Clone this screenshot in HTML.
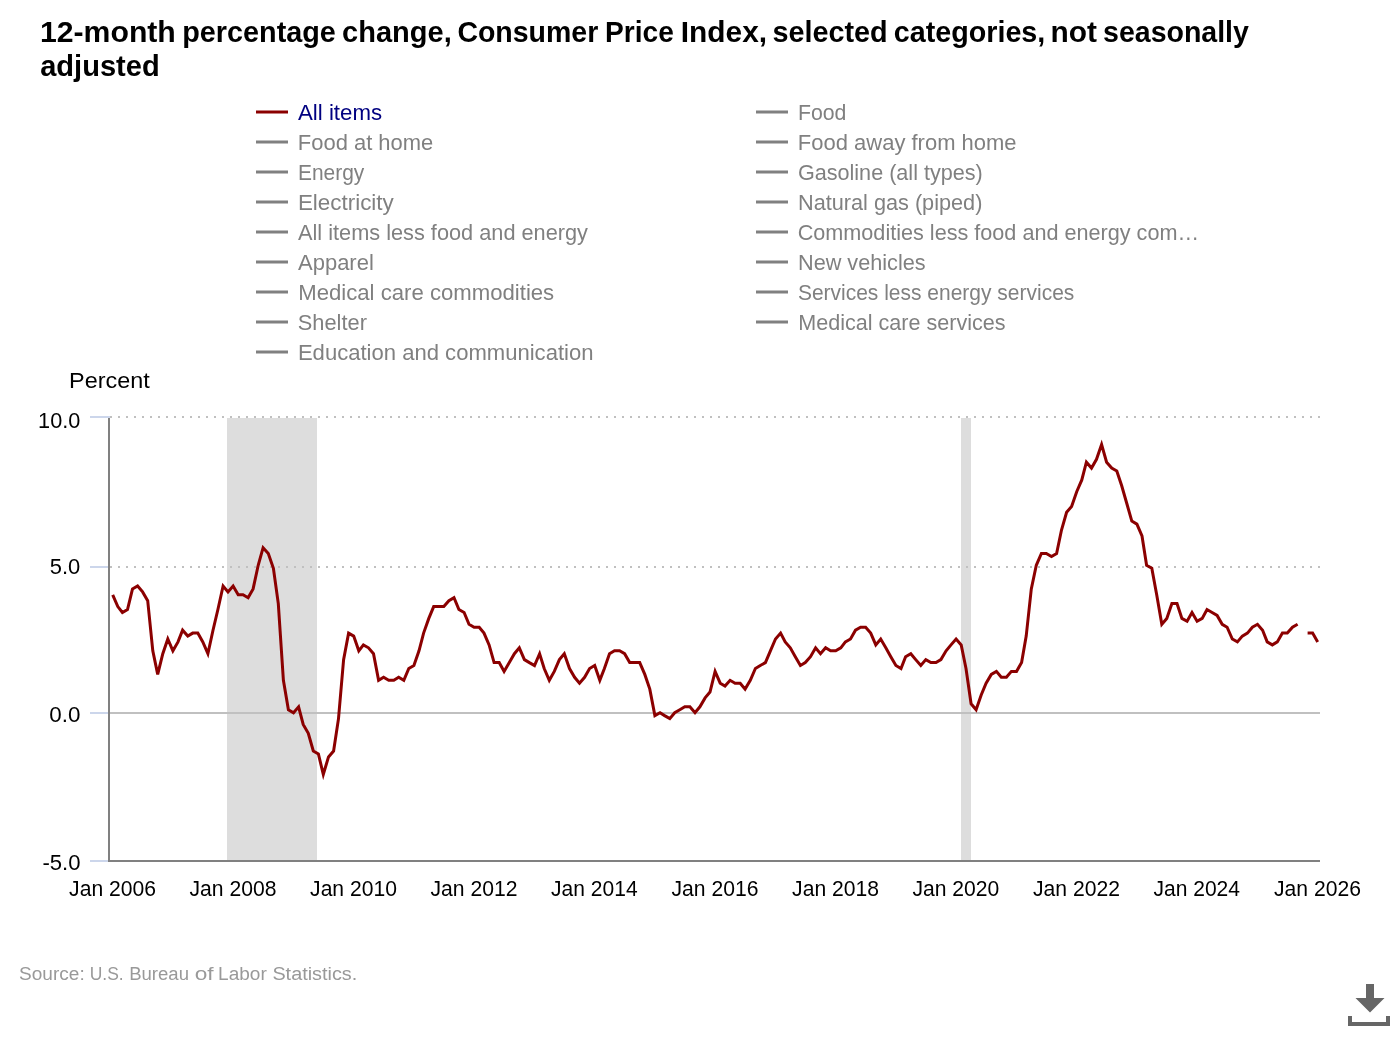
<!DOCTYPE html>
<html lang="en"><head><meta charset="utf-8"><title>12-month percentage change, Consumer Price Index</title>
<style>html,body{margin:0;padding:0;background:#fff;}body{width:1400px;height:1040px;overflow:hidden;font-family:"Liberation Sans",sans-serif;}svg{display:block;}</style>
</head><body>
<svg class="highcharts-root" width="1400" height="1040" viewBox="0 0 1400 1040">
<rect x="0" y="0" width="1400" height="1040" fill="#ffffff"/>
<g class="highcharts-title" font-family="'Liberation Sans', sans-serif" font-weight="700" font-size="29" fill="#000000">
<text><tspan x="40.0" y="42" textLength="135.8" lengthAdjust="spacingAndGlyphs">12-month</tspan> <tspan x="182.3" y="42" textLength="153.5" lengthAdjust="spacingAndGlyphs">percentage</tspan> <tspan x="342.1" y="42" textLength="109.6" lengthAdjust="spacingAndGlyphs">change,</tspan> <tspan x="457.4" y="42" textLength="140.9" lengthAdjust="spacingAndGlyphs">Consumer</tspan> <tspan x="605.0" y="42" textLength="68.8" lengthAdjust="spacingAndGlyphs">Price</tspan> <tspan x="680.8" y="42" textLength="86.3" lengthAdjust="spacingAndGlyphs">Index,</tspan> <tspan x="772.4" y="42" textLength="115.3" lengthAdjust="spacingAndGlyphs">selected</tspan> <tspan x="893.8" y="42" textLength="151.5" lengthAdjust="spacingAndGlyphs">categories,</tspan> <tspan x="1050.5" y="42" textLength="46.4" lengthAdjust="spacingAndGlyphs">not</tspan> <tspan x="1103.1" y="42" textLength="145.8" lengthAdjust="spacingAndGlyphs">seasonally</tspan> <tspan x="40.2" y="75.6" textLength="119.5" lengthAdjust="spacingAndGlyphs">adjusted</tspan></text>
</g>
<g class="highcharts-legend" font-family="'Liberation Sans', sans-serif" font-size="21.5">
<rect x="256" y="110.5" width="32" height="3" fill="#8b0000"/>
<text x="298.0" y="120" font-size="21.5" fill="#000080" textLength="84.1" lengthAdjust="spacingAndGlyphs">All items</text>
<rect x="256" y="140.5" width="32" height="3" fill="#808080"/>
<text x="297.8" y="150" font-size="21.5" fill="#808080" textLength="135.5" lengthAdjust="spacingAndGlyphs">Food at home</text>
<rect x="256" y="170.5" width="32" height="3" fill="#808080"/>
<text x="298.0" y="180" font-size="21.5" fill="#808080" textLength="66.3" lengthAdjust="spacingAndGlyphs">Energy</text>
<rect x="256" y="200.5" width="32" height="3" fill="#808080"/>
<text x="297.9" y="210" font-size="21.5" fill="#808080" textLength="95.9" lengthAdjust="spacingAndGlyphs">Electricity</text>
<rect x="256" y="230.5" width="32" height="3" fill="#808080"/>
<text x="298.0" y="240" font-size="21.5" fill="#808080" textLength="290.0" lengthAdjust="spacingAndGlyphs">All items less food and energy</text>
<rect x="256" y="260.5" width="32" height="3" fill="#808080"/>
<text x="298.0" y="270" font-size="21.5" fill="#808080" textLength="75.8" lengthAdjust="spacingAndGlyphs">Apparel</text>
<rect x="256" y="290.5" width="32" height="3" fill="#808080"/>
<text x="298.2" y="300" font-size="21.5" fill="#808080" textLength="256.0" lengthAdjust="spacingAndGlyphs">Medical care commodities</text>
<rect x="256" y="320.5" width="32" height="3" fill="#808080"/>
<text x="297.8" y="330" font-size="21.5" fill="#808080" textLength="69.1" lengthAdjust="spacingAndGlyphs">Shelter</text>
<rect x="256" y="350.5" width="32" height="3" fill="#808080"/>
<text x="297.9" y="360" font-size="21.5" fill="#808080" textLength="295.6" lengthAdjust="spacingAndGlyphs">Education and communication</text>
<rect x="756" y="110.5" width="32" height="3" fill="#808080"/>
<text x="797.9" y="120" font-size="21.5" fill="#808080" textLength="48.5" lengthAdjust="spacingAndGlyphs">Food</text>
<rect x="756" y="140.5" width="32" height="3" fill="#808080"/>
<text x="797.8" y="150" font-size="21.5" fill="#808080" textLength="218.8" lengthAdjust="spacingAndGlyphs">Food away from home</text>
<rect x="756" y="170.5" width="32" height="3" fill="#808080"/>
<text x="797.9" y="180" font-size="21.5" fill="#808080" textLength="184.9" lengthAdjust="spacingAndGlyphs">Gasoline (all types)</text>
<rect x="756" y="200.5" width="32" height="3" fill="#808080"/>
<text x="798.0" y="210" font-size="21.5" fill="#808080" textLength="184.4" lengthAdjust="spacingAndGlyphs">Natural gas (piped)</text>
<rect x="756" y="230.5" width="32" height="3" fill="#808080"/>
<text x="797.7" y="240" font-size="21.5" fill="#808080" textLength="401.4" lengthAdjust="spacingAndGlyphs">Commodities less food and energy com…</text>
<rect x="756" y="260.5" width="32" height="3" fill="#808080"/>
<text x="798.0" y="270" font-size="21.5" fill="#808080" textLength="127.6" lengthAdjust="spacingAndGlyphs">New vehicles</text>
<rect x="756" y="290.5" width="32" height="3" fill="#808080"/>
<text x="797.9" y="300" font-size="21.5" fill="#808080" textLength="276.4" lengthAdjust="spacingAndGlyphs">Services less energy services</text>
<rect x="756" y="320.5" width="32" height="3" fill="#808080"/>
<text x="798.2" y="330" font-size="21.5" fill="#808080" textLength="207.4" lengthAdjust="spacingAndGlyphs">Medical care services</text>
</g>
<rect x="227" y="418" width="90" height="442" fill="#dddddd"/>
<rect x="961" y="418" width="10" height="442" fill="#dddddd"/>
<line x1="110" y1="417" x2="1320" y2="417" stroke="#c0c0c0" stroke-width="2" stroke-dasharray="2,6"/>
<line x1="110" y1="567" x2="1320" y2="567" stroke="#c0c0c0" stroke-width="2" stroke-dasharray="2,6"/>
<line x1="110" y1="713" x2="1320" y2="713" stroke="#c0c0c0" stroke-width="2"/>
<rect x="90" y="416" width="20" height="2" fill="#ccd6eb"/>
<rect x="90" y="566" width="20" height="2" fill="#ccd6eb"/>
<rect x="90" y="712" width="20" height="2" fill="#ccd6eb"/>
<rect x="90" y="860" width="20" height="2" fill="#ccd6eb"/>
<rect x="108" y="418" width="2" height="444" fill="#808080"/>
<rect x="110" y="860" width="1210" height="2" fill="#808080"/>
<path d="M112.7,594.8 L117.8,606.6 L122.4,612.5 L127.5,609.5 L132.5,588.9 L137.6,586.0 L142.6,591.9 L147.7,600.7 L152.8,650.8 L157.7,674.4 L162.8,653.7 L167.8,639.0 L172.9,650.8 L178.0,641.9 L182.6,630.2 L187.8,636.1 L192.7,633.1 L197.8,633.1 L202.8,641.9 L207.9,653.7 L213.0,630.2 L217.9,609.5 L223.1,586.0 L228.0,591.9 L233.1,586.0 L238.2,594.8 L243.0,594.8 L248.1,597.7 L253.1,588.9 L258.2,565.3 L263.1,547.7 L268.3,553.5 L273.4,568.3 L278.3,603.6 L283.4,680.3 L288.4,709.7 L293.5,712.7 L298.6,706.8 L303.2,724.5 L308.3,733.3 L313.3,751.0 L318.4,753.9 L323.3,774.5 L328.5,756.9 L333.6,751.0 L338.5,718.6 L343.6,659.6 L348.6,633.1 L353.7,636.1 L358.8,650.8 L363.4,644.9 L368.5,647.8 L373.5,653.7 L378.6,680.3 L383.6,677.3 L388.7,680.3 L393.8,680.3 L398.7,677.3 L403.8,680.3 L408.8,668.5 L413.9,665.5 L419.0,650.8 L423.6,633.1 L428.8,618.4 L433.7,606.6 L438.8,606.6 L443.8,606.6 L448.9,600.7 L454.0,597.7 L458.9,609.5 L464.1,612.5 L469.0,624.3 L474.1,627.2 L479.2,627.2 L484.0,633.1 L489.1,644.9 L494.1,662.6 L499.2,662.6 L504.1,671.4 L509.3,662.6 L514.4,653.7 L519.3,647.8 L524.4,659.6 L529.4,662.6 L534.5,665.5 L539.6,653.7 L544.2,668.5 L549.3,680.3 L554.3,671.4 L559.4,659.6 L564.3,653.7 L569.5,668.5 L574.6,677.3 L579.5,683.2 L584.6,677.3 L589.6,668.5 L594.7,665.5 L599.8,680.3 L604.4,668.5 L609.5,653.7 L614.5,650.8 L619.6,650.8 L624.6,653.7 L629.7,662.6 L634.8,662.6 L639.7,662.6 L644.8,674.4 L649.8,689.1 L654.9,715.6 L660.0,712.7 L664.6,715.6 L669.8,718.6 L674.7,712.7 L679.8,709.7 L684.8,706.8 L689.9,706.8 L695.0,712.7 L699.9,706.8 L705.1,697.9 L710.0,692.0 L715.1,671.4 L720.2,683.2 L725.0,686.1 L730.1,680.3 L735.1,683.2 L740.2,683.2 L745.1,689.1 L750.3,680.3 L755.4,668.5 L760.3,665.5 L765.4,662.6 L770.4,650.8 L775.5,639.0 L780.6,633.1 L785.2,641.9 L790.3,647.8 L795.3,656.7 L800.4,665.5 L805.3,662.6 L810.5,656.7 L815.6,647.8 L820.5,653.7 L825.6,647.8 L830.6,650.8 L835.7,650.8 L840.8,647.8 L845.4,641.9 L850.5,639.0 L855.5,630.2 L860.6,627.2 L865.6,627.2 L870.7,633.1 L875.8,644.9 L880.7,639.0 L885.8,647.8 L890.8,656.7 L895.9,665.5 L901.0,668.5 L905.6,656.7 L910.8,653.7 L915.7,659.6 L920.8,665.5 L925.8,659.6 L930.9,662.6 L936.0,662.6 L940.9,659.6 L946.1,650.8 L951.0,644.9 L956.1,639.0 L961.2,644.9 L966.0,668.5 L971.1,703.8 L976.1,709.7 L981.2,695.0 L986.1,683.2 L991.3,674.4 L996.4,671.4 L1001.3,677.3 L1006.4,677.3 L1011.4,671.4 L1016.5,671.4 L1021.6,662.6 L1026.2,636.1 L1031.3,588.9 L1036.3,565.3 L1041.4,553.5 L1046.3,553.5 L1051.5,556.5 L1056.6,553.5 L1061.5,530.0 L1066.6,512.3 L1071.6,506.4 L1076.7,491.7 L1081.8,479.9 L1086.4,462.2 L1091.5,468.1 L1096.5,459.3 L1101.6,444.5 L1106.6,462.2 L1111.7,468.1 L1116.8,471.0 L1121.7,485.8 L1126.8,503.5 L1131.8,521.1 L1136.9,524.1 L1142.0,535.9 L1146.6,565.3 L1151.8,568.3 L1156.7,594.8 L1161.8,624.3 L1166.8,618.4 L1171.9,603.6 L1177.0,603.6 L1181.9,618.4 L1187.1,621.3 L1192.0,612.5 L1197.1,621.3 L1202.2,618.4 L1207.0,609.5 L1212.1,612.5 L1217.1,615.4 L1222.2,624.3 L1227.1,627.2 L1232.3,639.0 L1237.4,641.9 L1242.3,636.1 L1247.4,633.1 L1252.4,627.2 L1257.5,624.3 L1262.6,630.2 L1267.2,641.9 L1272.3,644.9 L1277.3,641.9 L1282.4,633.1 L1287.3,633.1 L1292.5,627.2 L1297.6,624.3 M1307.6,633.1 L1312.6,633.1 L1317.7,641.9" class="highcharts-graph" fill="none" stroke="#8b0000" stroke-width="3" stroke-linejoin="miter" stroke-linecap="butt"/>
<g class="highcharts-axis-labels" font-family="'Liberation Sans', sans-serif">
<text x="69.1" y="388" font-size="22.3" fill="#000000" textLength="80.6" lengthAdjust="spacingAndGlyphs">Percent</text>
<text x="38.1" y="428" font-size="21.5" fill="#000000" textLength="42.2" lengthAdjust="spacingAndGlyphs">10.0</text>
<text x="49.8" y="574" font-size="21.5" fill="#000000" textLength="30.5" lengthAdjust="spacingAndGlyphs">5.0</text>
<text x="49.3" y="722.4" font-size="21.5" fill="#000000" textLength="31.1" lengthAdjust="spacingAndGlyphs">0.0</text>
<text x="42.4" y="870.2" font-size="21.5" fill="#000000" textLength="38.1" lengthAdjust="spacingAndGlyphs">-5.0</text>
<text x="69.1" y="895.7" font-size="21.5" fill="#000000" textLength="86.9" lengthAdjust="spacingAndGlyphs">Jan 2006</text>
<text x="189.5" y="895.7" font-size="21.5" fill="#000000" textLength="86.9" lengthAdjust="spacingAndGlyphs">Jan 2008</text>
<text x="310.1" y="895.7" font-size="21.5" fill="#000000" textLength="86.8" lengthAdjust="spacingAndGlyphs">Jan 2010</text>
<text x="430.5" y="895.7" font-size="21.5" fill="#000000" textLength="87.0" lengthAdjust="spacingAndGlyphs">Jan 2012</text>
<text x="551.1" y="895.7" font-size="21.5" fill="#000000" textLength="86.5" lengthAdjust="spacingAndGlyphs">Jan 2014</text>
<text x="671.5" y="895.7" font-size="21.5" fill="#000000" textLength="86.9" lengthAdjust="spacingAndGlyphs">Jan 2016</text>
<text x="792.1" y="895.7" font-size="21.5" fill="#000000" textLength="86.9" lengthAdjust="spacingAndGlyphs">Jan 2018</text>
<text x="912.5" y="895.7" font-size="21.5" fill="#000000" textLength="86.8" lengthAdjust="spacingAndGlyphs">Jan 2020</text>
<text x="1033.0" y="895.7" font-size="21.5" fill="#000000" textLength="87.0" lengthAdjust="spacingAndGlyphs">Jan 2022</text>
<text x="1153.5" y="895.7" font-size="21.5" fill="#000000" textLength="86.5" lengthAdjust="spacingAndGlyphs">Jan 2024</text>
<text x="1274.0" y="895.7" font-size="21.5" fill="#000000" textLength="86.9" lengthAdjust="spacingAndGlyphs">Jan 2026</text>
<text y="980" font-size="18" fill="#999999"><tspan x="19.1" textLength="65.6" lengthAdjust="spacingAndGlyphs">Source:</tspan> <tspan x="89.7" textLength="34.0" lengthAdjust="spacingAndGlyphs">U.S.</tspan> <tspan x="129.2" textLength="59.8" lengthAdjust="spacingAndGlyphs">Bureau</tspan> <tspan x="194.7" textLength="18.9" lengthAdjust="spacingAndGlyphs">of</tspan> <tspan x="218.1" textLength="48.7" lengthAdjust="spacingAndGlyphs">Labor</tspan> <tspan x="272.4" textLength="84.9" lengthAdjust="spacingAndGlyphs">Statistics.</tspan></text>
</g>
<path class="highcharts-exporting-button" d="M1366,984h8v14h10.5l-14.5,14.5l-14.5,-14.5h10.5z M1348,1016h4v6h34v-6h4v10h-42z" fill="#666666"/>
</svg>
</body></html>
